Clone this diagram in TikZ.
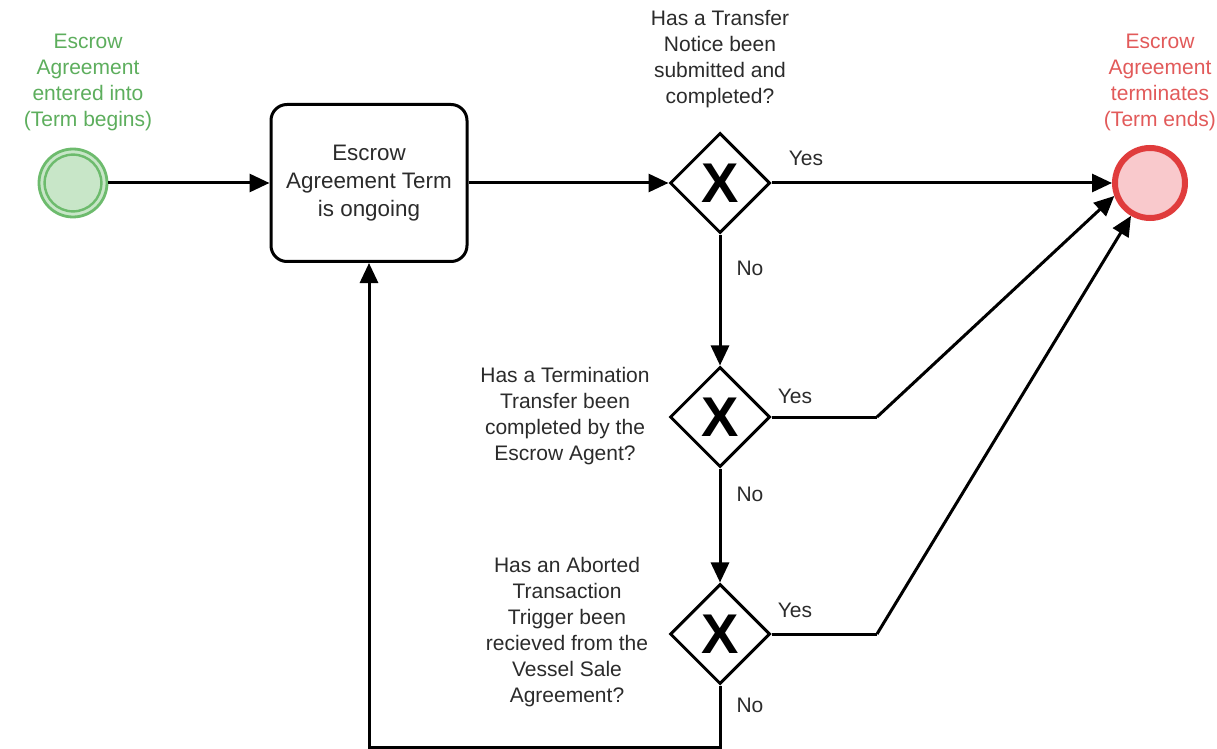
\documentclass[tikz,border=0pt]{standalone}
\usepackage{fontspec}
\setmainfont{Liberation Sans}
\usetikzlibrary{arrows.meta,shapes.geometric}
\definecolor{txt}{HTML}{2B2B2B}
\definecolor{gstroke}{HTML}{6DBB6D}
\definecolor{gfill}{HTML}{C8E6C8}
\definecolor{gtext}{HTML}{5DAE5D}
\definecolor{rstroke}{HTML}{E03C3C}
\definecolor{rfill}{HTML}{F9C9CC}
\definecolor{rtext}{HTML}{E25A5A}
\tikzset{
  lbl/.style={align=center,text=txt,font=\fontsize{10.5}{13}\selectfont,inner sep=0pt},
  yn/.style={text=txt,font=\fontsize{10.5}{13}\selectfont,inner sep=0pt},
  arr/.style={line width=1.5pt,-{Triangle[length=10pt,width=9pt]}},
  ln/.style={line width=1.5pt},
  gw/.style={diamond,draw,line width=1.5pt,minimum width=50pt,minimum height=50pt,inner sep=0pt,fill=white},
  xmark/.style={font=\fontsize{28}{28}\bfseries\selectfont,inner sep=0pt},
  taskbox/.style={draw,line width=1.5pt,rounded corners=8pt,minimum width=98pt,minimum height=78.5pt,align=center,font=\fontsize{11.2}{14}\selectfont,text=txt},
}
\begin{document}
\begin{tikzpicture}[x=0.5pt,y=-0.5pt]
\useasboundingbox[fill=white] (0,0) rectangle (1217,749);
% start event
\node[circle,draw=gstroke,fill=gfill,line width=1.4pt,minimum size=34pt,inner sep=0pt] (s) at (73,183) {};
\draw[gstroke,line width=1.2pt] (s) circle (14.2pt);
\node[lbl,text=gtext] (sl) at (88,82) {Escrow\\Agreement\\entered into\\(Term begins)};
% task
\node[taskbox] (t) at (369,183) {Escrow\\Agreement Term\\is ongoing};
% end event
\node[circle,draw=rstroke,fill=rfill,line width=3pt,minimum size=35pt,inner sep=0pt] (e) at (1150,183) {};
\node[lbl,text=rtext] (el) at (1160,82) {Escrow\\Agreement\\terminates\\(Term ends)};
% gateways
\node[gw] (g1) at (720,183) {};
\node[xmark] (x1) at (g1) {X};
\node[gw] (g2) at (720,417) {};
\node[xmark] (x2) at (g2) {X};
\node[gw] (g3) at (720,634) {};
\node[xmark] (x3) at (g3) {X};
% gateway labels
\node[lbl] (q1) at (720,59) {Has a Transfer\\Notice been\\submitted and\\completed?};
\node[lbl] (q2) at (565,416) {Has a Termination\\Transfer been\\completed by the\\Escrow Agent?};
\node[lbl] (q3) at (567,632) {Has an Aborted\\Transaction\\Trigger been\\recieved from the\\Vessel Sale\\Agreement?};
% connectors
\draw[arr] (s) -- (t);
\draw[arr] (t) -- (g1);
\draw[arr] (g1) -- (e);
\draw[arr] (g1) -- (g2);
\draw[arr] (g2) -- (g3);
\coordinate (k2) at (877,417);
\coordinate (k3) at (877,634);
\draw[ln] (g2.east) -- (k2);
\draw[arr] (k2) -- (e.200);
\draw[ln] (g3.east) -- (k3);
\draw[arr] (k3) -- (e.240);
\coordinate (b1) at (720,747);
\coordinate (b2) at (369,747);
\draw[arr] (g3.south) -- (b1) -- (b2) -- (t.south);
% yes/no labels
\node[yn] (y1) at (806,158) {Yes};
\node[yn] (n1) at (750,268) {No};
\node[yn] (y2) at (795,396) {Yes};
\node[yn] (n2) at (750,494) {No};
\node[yn] (y3) at (795,610) {Yes};
\node[yn] (n3) at (750,705) {No};
\end{tikzpicture}
\end{document}
